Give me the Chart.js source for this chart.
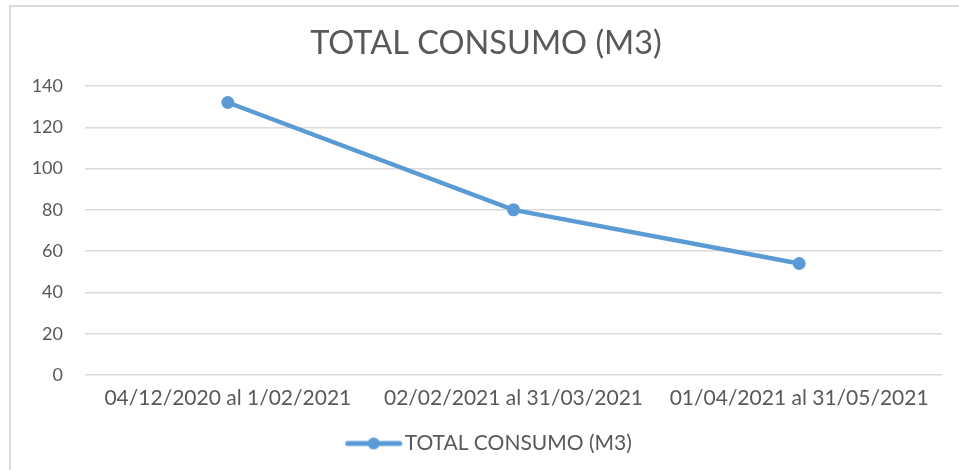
<!DOCTYPE html>
<html>
<head>
<meta charset="utf-8">
<script src="https://cdn.jsdelivr.net/npm/chart.js@4"></script>
<style>
  html, body { margin: 0; padding: 0; background: #fff; overflow: hidden; }
  #wrap { position: relative; width: 959px; height: 470px; }
  #frame { position: absolute; left: 9px; top: 5px; width: 980px; height: 500px;
           border-left: 2px solid #d9d9d9; border-top: 2px solid #d9d9d9; }
  canvas { position: absolute; left: 0; top: 0; }
</style>
</head>
<body>
<div id="wrap">
  <div id="frame"></div>
  <canvas id="chart" width="959" height="470"></canvas>
</div>
<script>
const periods = ['04/12/2020 al 1/02/2021', '02/02/2021 al 31/03/2021', '01/04/2021 al 31/05/2021'];
const consumo = [132, 80, 54];
const yTicks = [0, 20, 40, 60, 80, 100, 120, 140];

const blue = '#5b9bd5';
const textGray = '#595959';
const gridGray = '#d9d9d9';

// legend marker: short thick line with a dot in the middle,
// left padding so it sits close to the label text
const markerPad = 13;
const marker = document.createElement('canvas');
marker.width = 58 + markerPad;
marker.height = 14;
const mctx = marker.getContext('2d');
mctx.strokeStyle = blue;
mctx.lineWidth = 5;
mctx.lineCap = 'round';
mctx.beginPath();
mctx.moveTo(markerPad + 3, 7);
mctx.lineTo(markerPad + 55, 7);
mctx.stroke();
mctx.fillStyle = blue;
mctx.beginPath();
mctx.arc(markerPad + 29, 7, 6, 0, Math.PI * 2);
mctx.fill();

new Chart(document.getElementById('chart'), {
  type: 'line',
  data: {
    labels: periods,
    datasets: [{
      label: 'TOTAL CONSUMO (M3)',
      data: consumo,
      borderColor: blue,
      backgroundColor: blue,
      borderWidth: 4.5,
      pointRadius: 6.5,
      pointHoverRadius: 6.5,
      pointBackgroundColor: blue,
      pointBorderWidth: 0,
      tension: 0
    }]
  },
  options: {
    responsive: false,
    animation: false,
    layout: { padding: { left: 30, right: 17, top: 0, bottom: 6 } },
    plugins: {
      title: {
        display: true,
        text: 'TOTAL CONSUMO (M3)',
        color: textGray,
        font: { family: 'Lato', size: 32.5, weight: 'normal' },
        padding: { top: 24, bottom: 23 }
      },
      legend: {
        position: 'bottom',
        labels: {
          usePointStyle: true,
          pointStyle: marker,
          pointStyleWidth: 54,
          color: textGray,
          font: { family: 'Lato', size: 21 },
          padding: 10
        }
      },
      tooltip: { enabled: false }
    },
    scales: {
      x: {
        offset: true,
        afterFit: axis => { axis.height = 48; },
        grid: { display: false, drawTicks: false },
        border: { display: false },
        ticks: {
          color: textGray,
          font: { family: 'Lato', size: 21 },
          padding: 11,
          maxRotation: 0
        }
      },
      y: {
        min: 0,
        max: 140,
        afterBuildTicks: axis => { axis.ticks = yTicks.map(v => ({ value: v })); },
        afterFit: axis => { axis.width = 55; },
        grid: { color: gridGray, lineWidth: 1.5, drawTicks: false },
        border: { display: false },
        ticks: {
          color: textGray,
          font: { family: 'Lato', size: 18 },
          padding: 22
        }
      }
    }
  }
});
</script>
</body>
</html>
